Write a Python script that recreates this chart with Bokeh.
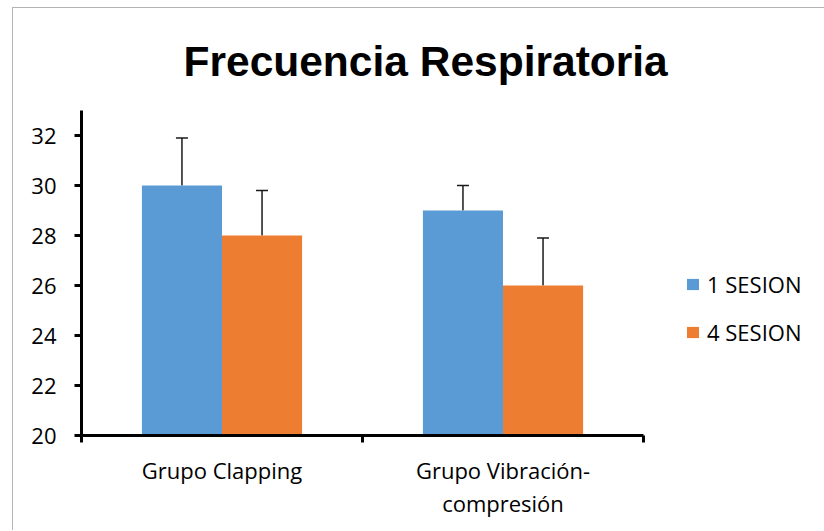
import numpy as np
from bokeh.plotting import figure
from bokeh.models import (ColumnDataSource, Range1d, FixedTicker, Whisker,
                          TeeHead, Legend, LegendItem)
from bokeh.embed import file_html
from bokeh.resources import INLINE

# ---- data ----
categories = ["Grupo Clapping", "Grupo Vibración-\ncompresión"]
series_names = ["1 SESION", "4 SESION"]
sesion1 = [30, 29]
sesion4 = [28, 26]
err1 = [1.9, 1.0]
err4 = [1.8, 1.9]
y_ticks = [20, 22, 24, 26, 28, 30, 32]
y_min, y_max = 20, 33
colors = ["#5B9BD5", "#ED7D31"]

LABEL_FONT = "Open Sans"
LABEL_SIZE = "22px"

centers = np.arange(len(categories)) + 0.5
bar_w = 0.285
offs = [-bar_w / 2, bar_w / 2]

p = figure(frame_width=562, frame_height=325, output_backend="svg", toolbar_location=None,
           x_range=Range1d(0, len(categories)), y_range=Range1d(y_min, y_max),
           min_border_left=68, min_border_right=180,
           min_border_top=102, min_border_bottom=95)
p.margin = (7, 0, 0, 12)
p.styles = {"border-left": "1px solid #b3b3b3", "border-top": "1px solid #b3b3b3"}
p.outline_line_color = None
p.xgrid.visible = False
p.ygrid.visible = False
p.background_fill_color = "white"
p.border_fill_color = "white"

renderers = []
for vals, errs, off, col in zip([sesion1, sesion4], [err1, err4], offs, colors):
    src = ColumnDataSource(dict(x=centers + off, top=vals,
                                upper=[v + e for v, e in zip(vals, errs)]))
    r = p.vbar(x="x", top="top", bottom=y_min, width=bar_w, source=src,
               fill_color=col, line_color=None)
    renderers.append(r)
    w = Whisker(base="x", lower="top", upper="upper", source=src,
                dimension="height", line_color="#1a1a1a", line_width=1.5,
                upper_head=TeeHead(size=12, line_color="#1a1a1a", line_width=1.5),
                lower_head=None)
    p.add_layout(w)

# title
p.title.text = "Frecuencia Respiratoria"
p.title.align = "left"
p.title.offset = 102
p.title.text_font = "Liberation Sans"
p.title.text_font_size = "42.5px"
p.title.text_font_style = "bold"
p.title.text_color = "black"
p.title.standoff = 52

# x axis
xa = p.xaxis[0]
xa.ticker = FixedTicker(ticks=list(centers), minor_ticks=list(range(len(categories) + 1)))
xa.major_label_overrides = {float(c): lab for c, lab in zip(centers, categories)}
xa.major_tick_out = 0
xa.major_tick_in = 0
xa.minor_tick_out = 7
xa.minor_tick_in = 0
xa.minor_tick_line_width = 3
xa.minor_tick_line_color = "black"
xa.axis_line_width = 3
xa.axis_line_color = "black"
xa.major_label_text_font = LABEL_FONT
xa.major_label_text_font_size = LABEL_SIZE
xa.major_label_text_color = "black"
xa.major_label_standoff = 12
xa.major_label_text_line_height = 1.1

# y axis
ya = p.yaxis[0]
ya.ticker = FixedTicker(ticks=y_ticks)
ya.major_tick_out = 7
ya.major_tick_in = 0
ya.minor_tick_out = 0
ya.minor_tick_in = 0
ya.major_tick_line_width = 3
ya.major_tick_line_color = "black"
ya.axis_line_width = 3
ya.axis_line_color = "black"
ya.major_label_text_font = LABEL_FONT
ya.major_label_text_font_size = LABEL_SIZE
ya.major_label_text_color = "black"
ya.major_label_standoff = 18

legend = Legend(items=[LegendItem(label=n, renderers=[r]) for n, r in zip(series_names, renderers)],
                location="top_left", padding=0, margin=42, spacing=18,
                glyph_width=15, glyph_height=14, label_standoff=7,
                title=" ", title_text_font_size="1px", title_standoff=116,
                border_line_color=None, background_fill_alpha=0,
                label_text_font=LABEL_FONT, label_text_font_size=LABEL_SIZE,
                label_text_color="black")
p.add_layout(legend, "right")

open("out.html", "w").write(file_html(p, INLINE))
